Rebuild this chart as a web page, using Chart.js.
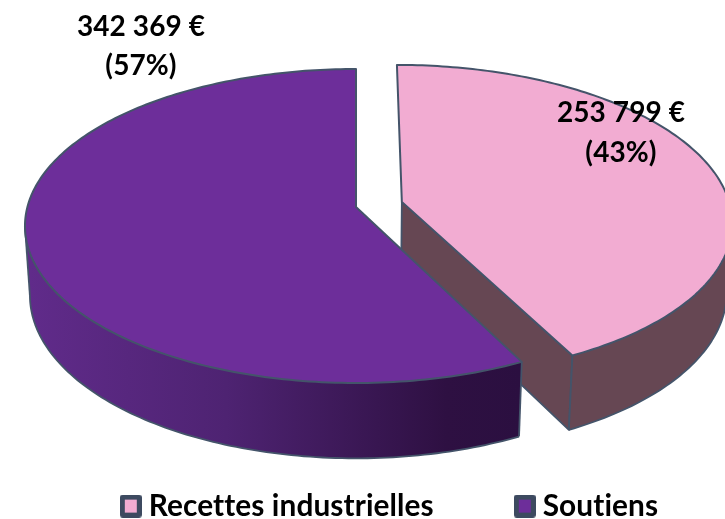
<!DOCTYPE html>
<html><head><meta charset="utf-8">
<style>html,body{margin:0;padding:0;background:#fff}canvas{display:block}</style>
<script src="https://cdn.jsdelivr.net/npm/chart.js@4"></script>
</head><body><canvas id="c" width="725" height="519"></canvas>
<script>
const categories = ["Recettes industrielles", "Soutiens"];
const values = [253799, 342369];
const amountLabels = ["253 799 €", "342 369 €"];
const percentLabels = ["(43%)", "(57%)"];
const topColors = ["#F2ACD2", "#6D2E9A"];

const FONT = '"Lato","Carlito",sans-serif';
const EDGE = "#44546A";
const cam = {x0:356, y0:207, a:328.6, b:154.7, k:-0.121, d:0.015, h:70};
const R = 180, EXPLODE = 0.144;

function project(u, v, z){
  const w = 1 + cam.k*v + cam.d*z;
  return [cam.x0 + cam.a*u/w, cam.y0 + (cam.b*v + cam.h*z)/w];
}
function legendSwatch(fill){
  const c = document.createElement("canvas"); c.width = 22; c.height = 23;
  const g = c.getContext("2d");
  g.fillStyle = "#3D4A60"; g.beginPath(); g.roundRect(0,0,22,23,3); g.fill();
  g.fillStyle = fill; g.fillRect(5,5,12,13);
  return c;
}
const DEG = Math.PI/180;
const pie3d = {
  id:"pie3d",
  beforeUpdate(chart){ chart.ctx.letterSpacing = "0.1px"; },
  beforeDraw(chart){ chart.ctx.letterSpacing = "0.1px"; },
  afterLayout(chart){
    chart.legend.left += 30.5; chart.legend.right += 30.5;
  },
  beforeDatasetsDraw(chart){
    const ctx = chart.ctx, arcs = chart.getDatasetMeta(0).data;
    ctx.save();
    ctx.lineJoin = "round";
    arcs.forEach((arc,i)=>{
      const a0 = arc.startAngle, a1 = arc.endAngle, mid = (a0+a1)/2;
      const off = arc.options.offset/4/arc.outerRadius * (i===0?1:0);
      const ox = Math.cos(mid)*off, oy = Math.sin(mid)*off;
      const P = (t,z)=>project(Math.cos(t)+ox, Math.sin(t)+oy, z);
      const C = z=>project(ox,oy,z);
      const steps = (s,e)=>{const n=Math.max(2,Math.ceil((e-s)/DEG)),r=[];for(let j=0;j<=n;j++)r.push(s+(e-s)*j/n);return r;};
      const poly = pts=>{ctx.beginPath();pts.forEach((p,j)=>j?ctx.lineTo(p[0],p[1]):ctx.moveTo(p[0],p[1]));};
      const fs = s=>{ctx.fillStyle=s;ctx.fill();};
      const st = w=>{ctx.strokeStyle=EDGE;ctx.lineWidth=w;ctx.stroke();};

      const vs = Math.max(a0, 7*DEG), ve = Math.min(a1, 173*DEG);
      const rimT = steps(vs,ve);
      let wall;
      if(i===0){ wall = "#664753"; }
      else { wall = ctx.createLinearGradient(30,0,520,0);
        wall.addColorStop(0,"#602B8A"); wall.addColorStop(0.4,"#4E2372"); wall.addColorStop(0.85,"#2E1042"); wall.addColorStop(1,"#2B0F40"); }
      if(a1 < Math.PI/2){
        poly([C(0),P(a1,0),P(a1,1),C(1)]); ctx.closePath(); fs(wall); st(1.8);
      }
      poly(rimT.map(t=>P(t,0)).concat(rimT.slice().reverse().map(t=>P(t,1))));
      ctx.closePath(); fs(wall);
      poly(rimT.map(t=>P(t,1))); st(1.8);
      poly([P(ve,0),P(ve,1)]); st(1.8);
      poly([P(vs,0),P(vs,1)]); st(1.8);

      poly([C(0)].concat(steps(a0,a1).map(t=>P(t,0)))); ctx.closePath();
      fs(arc.options.backgroundColor); st(2);
    });
    ctx.fillStyle="#000"; ctx.textAlign="center"; ctx.textBaseline="middle";
    ctx.font = "bold 28px "+FONT;
    const pos = [[621,113,621,153],[141,27,141,66]];
    arcs.forEach((arc,i)=>{
      ctx.fillText(amountLabels[i],pos[i][0],pos[i][1]);
      ctx.fillText(percentLabels[i],pos[i][2],pos[i][3]);
    });
    ctx.restore();
    return false;
  }
};
new Chart(document.getElementById("c"),{
  type:"pie",
  data:{labels:categories,datasets:[{data:values,backgroundColor:topColors,offset:4*EXPLODE*R,borderWidth:0}]},
  options:{
    responsive:false, animation:false, events:[], radius:R,
    layout:{padding:{bottom:-12}},
    plugins:{
      tooltip:{enabled:false},
      legend:{position:"bottom",labels:{
        usePointStyle:true,pointStyleWidth:6,padding:88,color:"#000",
        font:{family:FONT,size:29.8,weight:"bold"},
        generateLabels:ch=>categories.map((t,i)=>({text:t,pointStyle:legendSwatch(topColors[i]),fontColor:"#000",hidden:false,index:i,datasetIndex:0,lineWidth:0}))
      }}
    }
  },
  plugins:[pie3d]
});
</script></body></html>
